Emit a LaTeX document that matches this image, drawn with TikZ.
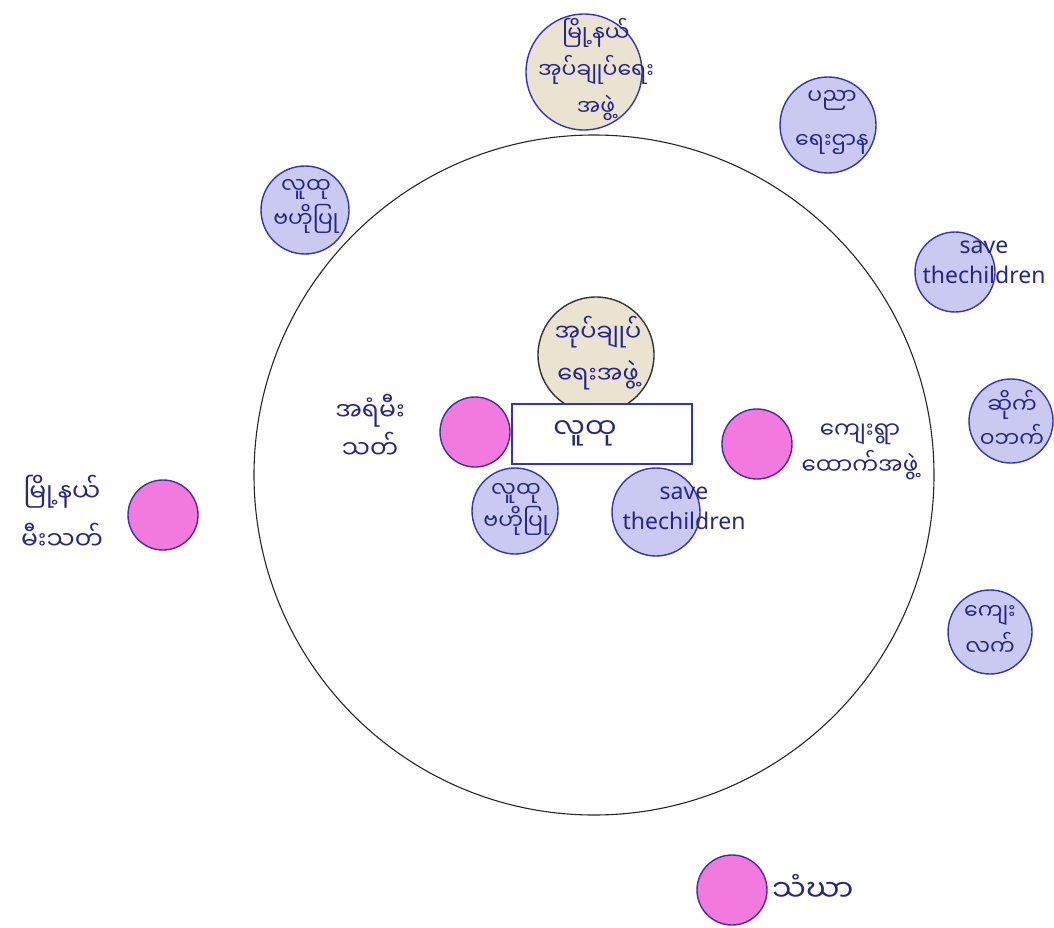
\documentclass[tikz,border=0pt]{standalone}
\usepackage{fontspec}
\setmainfont{Noto Sans}
\newfontfamily\mya[Script=Myanmar]{Noto Sans Myanmar UI}
\definecolor{ink}{HTML}{26268A}
\definecolor{blueF}{HTML}{CACAF0}
\definecolor{blueD}{HTML}{3434B8}
\definecolor{pinkF}{HTML}{F27ADF}
\definecolor{pinkD}{HTML}{4A2AA0}
\definecolor{beigeF}{HTML}{E9E3D0}
\tikzset{
  bub/.style={circle, draw=blueD, line width=1.4pt, fill=blueF, minimum size=#1, inner sep=0pt},
  pnk/.style={circle, draw=pinkD, line width=1.4pt, fill=pinkF, minimum size=#1, inner sep=0pt},
  bge/.style={circle, draw=#1, line width=1.4pt, fill=beigeF, minimum size=116pt, inner sep=0pt},
  mtxt/.style={text=ink, align=center, inner sep=0pt},
  ltxt/.style={text=ink, font=\fontsize{23}{30}\selectfont, align=center, inner sep=0pt},
}
\newcommand{\mf}[2]{\mya\fontsize{#1}{#2}\selectfont}
\begin{document}
\begin{tikzpicture}[x=1pt,y=-1pt]
\useasboundingbox (0,0) rectangle (1054,928);
% big circle
\node[circle, draw=black!85, line width=1.1pt, minimum size=680pt, inner sep=0pt] (big) at (594,475) {};
% outer circles
\node[bge=blueD] (top) at (584,72) {};
\node[bub=96pt] (tr) at (828,125) {};
\node[bub=88pt] (tl) at (305,210) {};
\node[bub=80pt] (rs) at (955,272) {};
\node[bub=84pt] (rk) at (1011,421) {};
\node[bub=84pt] (rl) at (990,632) {};
\node[pnk=70pt] (fl) at (163,515) {};
\node[pnk=70pt] (bt) at (732,890) {};
% inner shapes
\node[bge=black!80] (cen) at (596,355) {};
\node[draw=blueD, line width=1.4pt, fill=white, minimum width=180pt, minimum height=60pt, inner sep=0pt] (box) at (602,434) {};
\node[pnk=70pt] (lp) at (475,432) {};
\node[pnk=70pt] (rp) at (757,444) {};
\node[bub=86pt] (ib1) at (515,511) {};
\node[bub=88pt] (ib2) at (656,512) {};
% texts
\node[mtxt, font=\mf{22}{37}] (topt) at (596,70) {မြို့နယ်\\အုပ်ချုပ်ရေး\\အဖွဲ့};
\node[mtxt, font=\mf{22}{44}] (trt) at (832,122) {ပညာ\\ရေးဌာန};
\node[mtxt, font=\mf{22}{34}] (tlt) at (306,206) {လူထု\\ဗဟိုပြု};
\node[ltxt] (rst) at (984,262) {save\\thechildren};
\node[mtxt, font=\mf{22}{34}] (rkt) at (1012,419) {ဆိုက်\\ဝဘက်};
\node[mtxt, font=\mf{22}{36}] (rlt) at (990,630) {ကျေး\\လက်};
\node[mtxt, font=\mf{25}{48}] (flt) at (62,512) {မြို့နယ်\\မီးသတ်};
\node[mtxt, font=\mf{30}{36}, anchor=west] (btt) at (772,888) {သံဃာ};
\node[mtxt, font=\mf{24}{42}] (cent) at (598,353) {အုပ်ချုပ်\\ရေးအဖွဲ့};
\node[mtxt, font=\mf{28}{36}] (boxt) at (585,433) {လူထု};
\node[mtxt, font=\mf{25}{38}] (lpt) at (370,426) {အရံမီး\\သတ်};
\node[mtxt, font=\mf{23}{36}] (rpt) at (860,452) {ကျေးရွာ\\ထောက်အဖွဲ့};
\node[mtxt, font=\mf{22}{32}] (ib1t) at (516,509) {လူထု\\ဗဟိုပြု};
\node[ltxt] (ib2t) at (684,508) {save\\thechildren};
\end{tikzpicture}
\end{document}
